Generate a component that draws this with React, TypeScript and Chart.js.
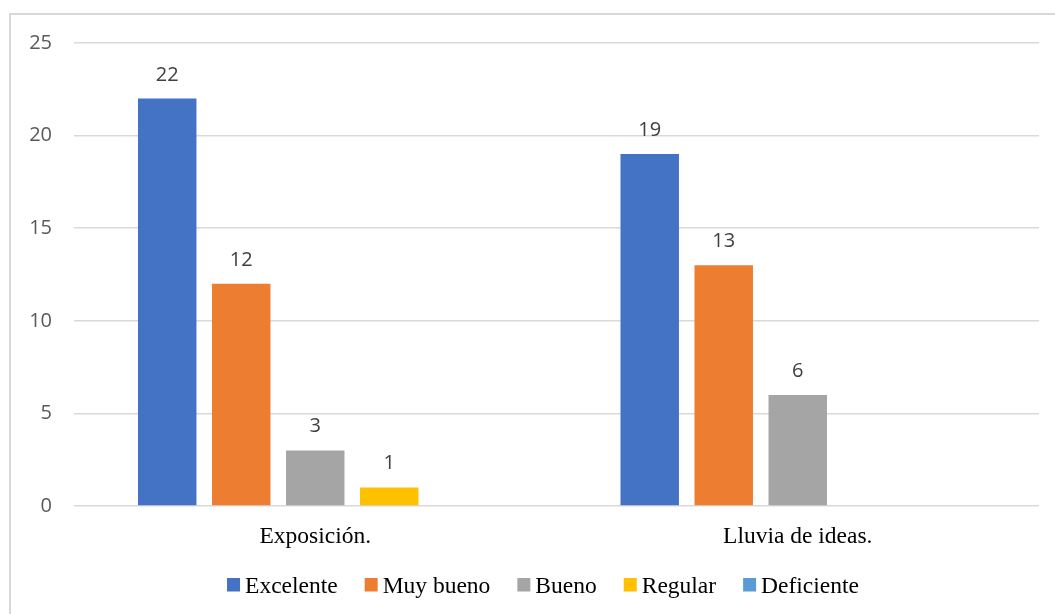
import { useEffect, useRef } from "react";
import { Chart, registerables } from "chart.js";

Chart.register(...registerables);

const categories = ["Exposición.", "Lluvia de ideas."];
const seriesNames = ["Excelente", "Muy bueno", "Bueno", "Regular", "Deficiente"];
const excelente = [22, 19];
const muyBueno = [12, 13];
const bueno = [3, 6];
const regular = [1, 0];
const deficiente = [0, 0];
const seriesColors = ["#4472C4", "#ED7D31", "#A5A5A5", "#FFC000", "#5B9BD5"];
const yMin = 0;
const yMax = 25;
const yStep = 5;

const SANS = "'Open Sans', 'Liberation Sans', sans-serif";
const SERIF = "'Liberation Serif', 'Times New Roman', serif";

// Numbers above each non-zero bar
const valueLabels = {
  id: "valueLabels",
  afterDatasetsDraw(chart: any) {
    const ctx = chart.ctx;
    ctx.save();
    ctx.font = `20px ${SANS}`;
    ctx.fillStyle = "#404040";
    ctx.textAlign = "center";
    ctx.textBaseline = "alphabetic";
    chart.data.datasets.forEach((ds: any, i: number) => {
      const meta = chart.getDatasetMeta(i);
      meta.data.forEach((bar: any, j: number) => {
        const v = ds.data[j];
        if (!v) return;
        ctx.fillText(String(v), bar.x, bar.y - 18);
      });
    });
    ctx.restore();
  },
};

// Legend row under the category labels
const bottomLegend = {
  id: "bottomLegend",
  afterDraw(chart: any) {
    const ctx = chart.ctx;
    const box = 13;
    const boxGap = 5;
    const itemGap = 27;
    const centerX = 543;
    const boxTop = 578;
    const baseline = 592.5;
    ctx.save();
    ctx.font = `23.5px ${SERIF}`;
    const items = chart.data.datasets.map((ds: any) => ({
      label: ds.label as string,
      color: ds.backgroundColor as string,
      w: ctx.measureText(ds.label).width,
    }));
    const total =
      items.reduce((s: number, it: any) => s + box + boxGap + it.w, 0) +
      itemGap * (items.length - 1);
    let x = centerX - total / 2;
    ctx.textAlign = "left";
    ctx.textBaseline = "alphabetic";
    items.forEach((it: any) => {
      ctx.fillStyle = it.color;
      ctx.fillRect(x, boxTop, box, box + 0.5);
      ctx.fillStyle = "#000000";
      ctx.fillText(it.label, x + box + boxGap, baseline);
      x += box + boxGap + it.w + itemGap;
    });
    ctx.restore();
  },
};

export default function App() {
  const canvasRef = useRef<HTMLCanvasElement | null>(null);

  useEffect(() => {
    if (!canvasRef.current) return;
    const seriesValues = [excelente, muyBueno, bueno, regular, deficiente];
    const chart = new Chart(canvasRef.current, {
      type: "bar",
      data: {
        labels: categories,
        datasets: seriesNames.map((name, i) => ({
          label: name,
          data: seriesValues[i],
          backgroundColor: seriesColors[i],
          borderWidth: 0,
          categoryPercentage: 0.767,
          barPercentage: 0.79,
        })),
      },
      options: {
        responsive: false,
        animation: false,
        layout: { padding: { left: 0, right: 16, top: 43, bottom: 58 } },
        plugins: {
          legend: { display: false },
          tooltip: { enabled: false },
          title: { display: false },
        },
        scales: {
          x: {
            grid: { display: false },
            border: { display: false },
            ticks: {
              color: "#000000",
              font: { family: SERIF, size: 23.5 },
              padding: 9,
            },
            afterFit(scale: any) {
              scale.height = 50;
            },
          },
          y: {
            min: yMin,
            max: yMax,
            border: { display: false },
            grid: { color: "#d9d9d9", lineWidth: 1.5, drawTicks: false },
            ticks: {
              stepSize: yStep,
              color: "#595959",
              font: { family: SANS, size: 20 },
              padding: 22,
            },
            afterFit(scale: any) {
              scale.width = 74;
            },
          },
        },
      },
      plugins: [valueLabels, bottomLegend],
    });
    return () => chart.destroy();
  }, []);

  return (
    <div
      style={{
        position: "fixed",
        left: 0,
        top: 0,
        width: 1055,
        height: 614,
        overflow: "hidden",
        background: "#ffffff",
      }}
    >
      <div
        style={{
          position: "absolute",
          left: 9,
          top: 13,
          width: 1200,
          height: 800,
          border: "2px solid #d9d9d9",
          boxSizing: "border-box",
        }}
      />
      <canvas
        ref={canvasRef}
        width={1055}
        height={614}
        style={{ position: "absolute", left: 0, top: 0 }}
      />
    </div>
  );
}
